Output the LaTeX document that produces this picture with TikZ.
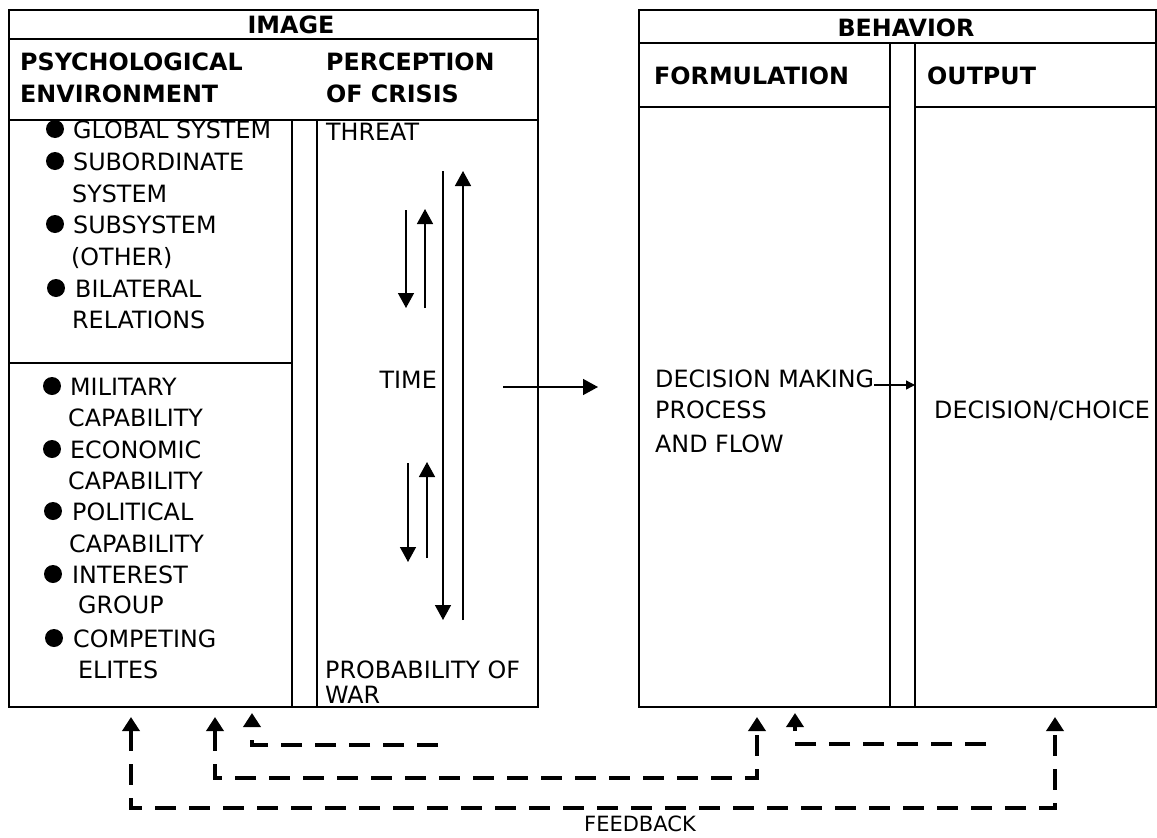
\documentclass[tikz,border=0pt]{standalone}
\usepackage{fontspec}
\setmainfont{DejaVu Sans}
\usetikzlibrary{arrows.meta}
\begin{document}
\begin{tikzpicture}[x=1pt,y=-1pt,
  box/.style={line width=1.6pt},
  txt/.style={inner sep=0pt, anchor=base west, font=\fontsize{23.8}{31.5}\selectfont},
  hd/.style={inner sep=0pt, anchor=base west, font=\fontsize{23.8}{31.5}\selectfont\bfseries},
  arr/.style={line width=1.5pt, -{Triangle[width=16pt,length=15pt]}},
  smallarr/.style={line width=1.3pt, -{Triangle[width=9pt,length=9pt]}},
  fb/.style={line width=4pt, dash pattern=on 21pt off 13pt},
  bul/.style={circle, fill=black, inner sep=0pt, minimum size=18pt}
]
\fill[white] (0,0) rectangle (1157,838);
\useasboundingbox (0,0) rectangle (1157,838);

% ---------- IMAGE box ----------
\draw[box] (9,10) rectangle (538,707);
\draw[box] (9,39) -- (538,39);
\draw[box] (9,120) -- (538,120);
\draw[box] (292,120) -- (292,707);
\draw[box] (317,120) -- (317,707);
\draw[box] (9,363) -- (292,363);

\node[hd, anchor=base] (image) at (291,33) {IMAGE};
\node[hd] (psy1) at (20,70) {PSYCHOLOGICAL};
\node[hd] (psy2) at (20,102) {ENVIRONMENT};
\node[hd] (per1) at (326,70) {PERCEPTION};
\node[hd] (per2) at (326,102) {OF CRISIS};

% top group
\node[bul] (b1) at (55,129) {};
\node[txt] (t1) at (73,138) {GLOBAL SYSTEM};
\node[bul] (b2) at (55,161) {};
\node[txt] (t2a) at (73,170) {SUBORDINATE};
\node[txt] (t2b) at (72,202) {SYSTEM};
\node[bul] (b3) at (55,224) {};
\node[txt] (t3a) at (73,233) {SUBSYSTEM};
\node[txt] (t3b) at (71,265) {(OTHER)};
\node[bul] (b4) at (56,288) {};
\node[txt] (t4a) at (75,297) {BILATERAL};
\node[txt] (t4b) at (72,328) {RELATIONS};

% bottom group
\node[bul] (b5) at (52,386) {};
\node[txt] (t5a) at (70,395) {MILITARY};
\node[txt] (t5b) at (68,426) {CAPABILITY};
\node[bul] (b6) at (52,449) {};
\node[txt] (t6a) at (70,458) {ECONOMIC};
\node[txt] (t6b) at (68,489) {CAPABILITY};
\node[bul] (b7) at (53,511) {};
\node[txt] (t7a) at (72,520) {POLITICAL};
\node[txt] (t7b) at (69,552) {CAPABILITY};
\node[bul] (b8) at (53,574) {};
\node[txt] (t8a) at (72,583) {INTEREST};
\node[txt] (t8b) at (78,613) {GROUP};
\node[bul] (b9) at (54,638) {};
\node[txt] (t9a) at (73,647) {COMPETING};
\node[txt] (t9b) at (78,678) {ELITES};

% perception column
\node[txt] (threat) at (326,140) {THREAT};
\node[txt, anchor=base east] (time) at (437,388) {TIME};
\node[txt] (prob1) at (325,678) {PROBABILITY OF};
\node[txt] (prob2) at (325,703) {WAR};

\coordinate (a1s) at (406,210); \coordinate (a1e) at (406,308);
\coordinate (a2s) at (425,308); \coordinate (a2e) at (425,209);
\coordinate (a3s) at (443,171); \coordinate (a3e) at (443,620);
\coordinate (a4s) at (463,620); \coordinate (a4e) at (463,171);
\coordinate (a5s) at (408,463); \coordinate (a5e) at (408,562);
\coordinate (a6s) at (427,558); \coordinate (a6e) at (427,462);
\draw[arr] (a1s) -- (a1e);
\draw[arr] (a2s) -- (a2e);
\draw[arr] (a3s) -- (a3e);
\draw[arr] (a4s) -- (a4e);
\draw[arr] (a5s) -- (a5e);
\draw[arr] (a6s) -- (a6e);

% middle arrow
\coordinate (ms) at (503,387);
\coordinate (me) at (598,387);
\draw[arr] (ms) -- (me);

% ---------- BEHAVIOR box ----------
\draw[box] (639,10) rectangle (1156,707);
\draw[box] (639,43) -- (1156,43);
\draw[box] (890,43) -- (890,707);
\draw[box] (915,43) -- (915,707);
\draw[box] (639,107) -- (890,107);
\draw[box] (915,107) -- (1156,107);

\node[hd, anchor=base] (behavior) at (906,36) {BEHAVIOR};
\node[hd] (form) at (654,84) {FORMULATION};
\node[hd] (output) at (927,84) {OUTPUT};

\node[txt] (dm1) at (655,387) {DECISION MAKING};
\node[txt] (dm2) at (655,418) {PROCESS};
\node[txt] (dm3) at (655,452) {AND FLOW};
\node[txt] (choice) at (934,418) {DECISION/CHOICE};
\coordinate (dmarr) at (915,385);
\draw[smallarr] (dm1.base east) ++(0,-2) -- (dmarr);

% ---------- feedback ----------
\coordinate (f1a) at (131,717); \coordinate (f1b) at (1055,717);
\coordinate (f2a) at (215,717); \coordinate (f2b) at (757,717);
\coordinate (f3s) at (438,745); \coordinate (f3e) at (252,713);
\coordinate (f4s) at (986,744); \coordinate (f4e) at (795,713);
\draw[fb, {Triangle[width=17pt,length=14pt]}-{Triangle[width=17pt,length=14pt]}]
  (f1a) -- (131,808) -- (1055,808) -- (f1b);
\draw[fb, {Triangle[width=17pt,length=14pt]}-{Triangle[width=17pt,length=14pt]}]
  (f2a) -- (215,778) -- (757,778) -- (f2b);
\draw[fb, -{Triangle[width=17pt,length=14pt]}] (f3s) -- (252,745) -- (f3e);
\draw[fb, -{Triangle[width=17pt,length=14pt]}] (f4s) -- (795,744) -- (f4e);

\node[inner sep=0pt, anchor=base, font=\fontsize{21}{25}\selectfont] (feedback) at (640,831) {FEEDBACK};
\end{tikzpicture}
\end{document}
